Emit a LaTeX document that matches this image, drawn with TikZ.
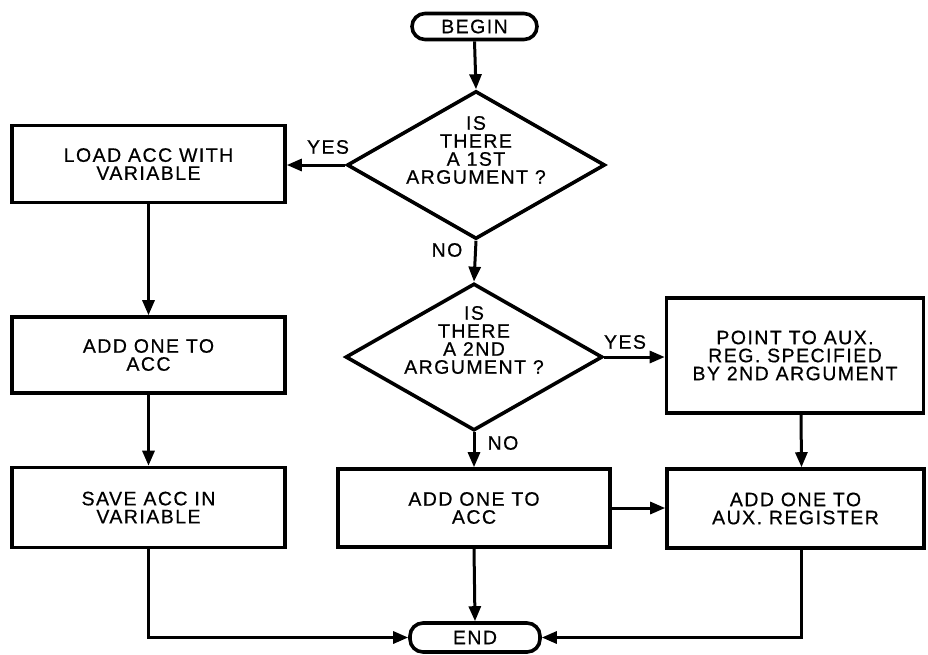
\documentclass[tikz,border=0pt]{standalone}
\usepackage{fontspec}
\setmainfont{Liberation Sans}[LetterSpace=7.5,FakeBold=0.6]
\usetikzlibrary{shapes.geometric,arrows.meta}
\begin{document}
\begin{tikzpicture}[x=1pt,y=-1pt,
  every node/.style={font=\fontsize{19.5}{18}\selectfont, align=center, inner sep=0pt},
  box/.style={draw, line width=3.6pt, rectangle},
  term/.style={draw, line width=3.6pt, rectangle, rounded corners=13pt},
  dec/.style={draw, line width=3.6pt, diamond},
  arr/.style={line width=3pt, -{Triangle[length=15pt,width=12pt]}}]
\useasboundingbox (0,0) rectangle (928,654);

\node[term, minimum width=125pt, minimum height=26pt] (begin) at (474.5,26.5) {BEGIN};
\node[dec, minimum width=258pt, minimum height=148pt] (d1) at (476,165) {};
\node (d1t) at (476,150) {IS\\THERE\\A 1ST\\ARGUMENT ?};
\node[box, minimum width=273pt, minimum height=77pt] (load) at (148.5,164) {LOAD ACC WITH\\VARIABLE};
\node[box, minimum width=273pt, minimum height=76pt] (add1) at (148.5,355) {ADD ONE TO\\ACC};
\node[box, minimum width=273pt, minimum height=80pt] (save) at (148.5,507.5) {SAVE ACC IN\\VARIABLE};
\node[dec, minimum width=257pt, minimum height=147pt] (d2) at (474,357) {};
\node (d2t) at (474,340) {IS\\THERE\\A 2ND\\ARGUMENT ?};
\node[box, minimum width=257pt, minimum height=115pt] (point) at (795,355.5) {POINT TO AUX.\\REG. SPECIFIED\\BY 2ND ARGUMENT};
\node[box, minimum width=272pt, minimum height=78pt] (add2) at (474,508) {ADD ONE TO\\ACC};
\node[box, minimum width=257pt, minimum height=79pt] (aux) at (795.5,508.5) {ADD ONE TO\\AUX. REGISTER};
\node[term, minimum width=130pt, minimum height=29pt] (end) at (475,637.5) {END};

\node (yes1) at (328,147) {YES};
\node (no1) at (447,250) {NO};
\node (yes2) at (625,342) {YES};
\node (no2) at (503,443) {NO};

\draw[arr] (begin.south) -- (d1.north);
\draw[arr] (d1.west) -- (d1.west -| load.east);
\draw[arr] (d1.south) -- (d2.north);
\draw[arr] (load.south) -- (add1.north);
\draw[arr] (add1.south) -- (save.north);
\draw[arr] (d2.east) -- (d2.east -| point.west);
\draw[arr] (d2.south) -- (add2.north);
\draw[arr] ([xshift=6pt]point.south) -- ([xshift=6pt]aux.north);
\draw[arr] (add2.east) -- (add2.east -| aux.west);
\draw[arr] (add2.south) -- (end.north);
\draw[arr] (save.south) |- (end.west);
\draw[arr] ([xshift=6pt]aux.south) |- (end.east);
\end{tikzpicture}
\end{document}
